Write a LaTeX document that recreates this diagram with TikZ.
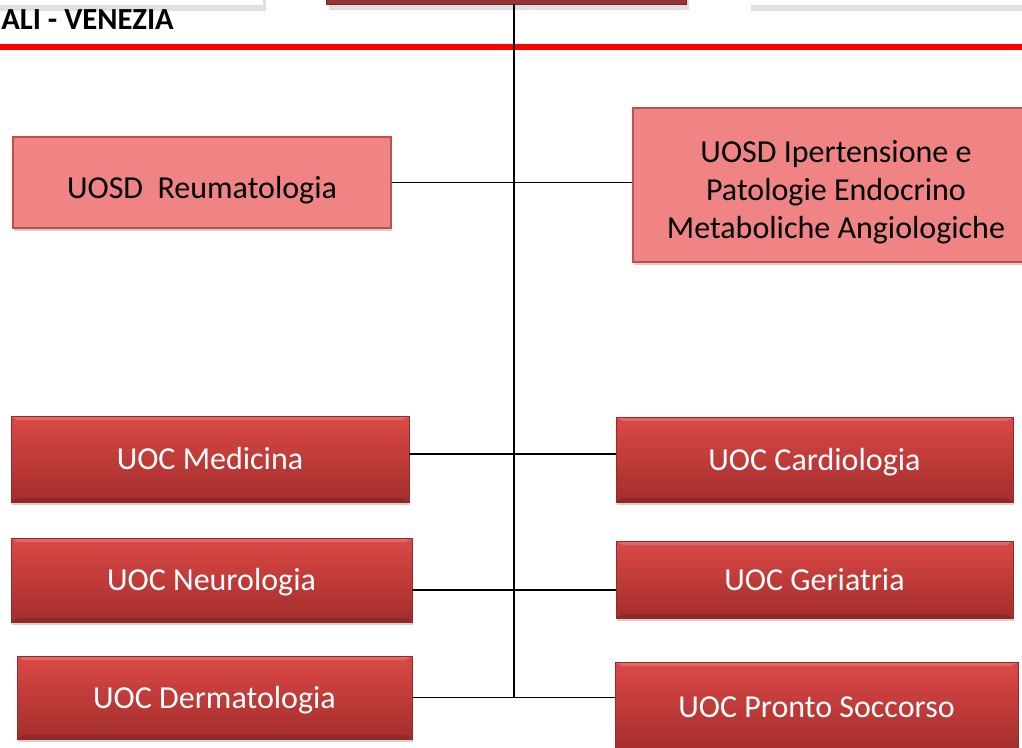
\documentclass[tikz,border=0pt]{standalone}
\usepackage{fontspec}
\setmainfont{Carlito}
\usepackage{xcolor}
\usetikzlibrary{shadows, positioning, calc}
\definecolor{rosa}{RGB}{240,132,133}
\definecolor{bordorosa}{RGB}{192,80,77}
\definecolor{rossoalto}{RGB}{219,73,71}
\definecolor{rossobasso}{RGB}{163,45,43}
\definecolor{bordorosso}{RGB}{150,42,40}
\definecolor{testata}{RGB}{149,52,50}
\tikzstyle{ombra} = [drop shadow={shadow xshift=0.8pt, shadow yshift=-2.2pt, fill=black!35}]
\tikzstyle{bianco} = [rectangle, fill=white, drop shadow={shadow xshift=2pt, shadow yshift=-4.5pt, fill=black!25}]
\tikzstyle{uosd} = [rectangle, draw=bordorosa, line width=1pt, fill=rosa, align=center, font=\fontsize{24}{28.5}\selectfont, ombra]
\tikzstyle{uoc} = [rectangle, draw=bordorosso, line width=0.4pt, top color=rossoalto, bottom color=rossobasso, text=white, align=center, text height=18pt, text depth=2pt, font=\fontsize{24}{28}\selectfont, ombra,
    path picture={
        \fill[white, opacity=0.18] (path picture bounding box.north west) -- (path picture bounding box.north east) -- ([shift={(-5pt,-3pt)}]path picture bounding box.north east) -- ([shift={(5pt,-3pt)}]path picture bounding box.north west) -- cycle;
        \fill[black, opacity=0.12] (path picture bounding box.south west) -- (path picture bounding box.south east) -- ([shift={(-5pt,3pt)}]path picture bounding box.south east) -- ([shift={(5pt,3pt)}]path picture bounding box.south west) -- cycle;}]
\tikzstyle{linea} = [line width=1.3pt, black]

\begin{document}
\begin{tikzpicture}[x=0.75pt, y=-0.75pt]
        \useasboundingbox (0,0) rectangle (1022,747);
        \clip (0,0) rectangle (1022,747);
        % testata
        \node (sx) [bianco, minimum width=227.25pt, minimum height=48.75pt] at (111.5,-27.5) {};
        \node (testa) [bianco, fill=testata, draw=testata!75!black, minimum width=270pt, minimum height=48pt] at (506,-28) {};
        \node (dx) [bianco, minimum width=249pt, minimum height=48.75pt] at (914,-27.5) {};
        \node (sede) [anchor=west, inner sep=0pt, font=\bfseries\fontsize{23}{25}\selectfont] at (1,20) {ALI - VENEZIA};
        \draw[red, line width=4.2pt] (0,47) -- (1022,47);
        
        \node (reum) [uosd, minimum width=283.5pt, minimum height=68.25pt, text height=25.5pt, text depth=2pt] at (202,182.5) {UOSD\ \ Reumatologia};
        \node (iper) [uosd, minimum width=304.5pt, minimum height=115.5pt, text height=80pt, text depth=0pt] at (836,185) {UOSD Ipertensione e\\Patologie Endocrino\\Metaboliche Angiologiche};
        \node (med) [uoc, minimum width=298.5pt, minimum height=64.5pt] at (210,459) {UOC Medicina};
        \node (card) [uoc, minimum width=297.75pt, minimum height=63.75pt] at (814.5,459.5) {UOC Cardiologia};
        \node (neuro) [uoc, minimum width=300.75pt, minimum height=63pt] at (211.5,580) {UOC Neurologia};
        \node (geri) [uoc, minimum width=297.75pt, minimum height=57.75pt] at (814.5,579.5) {UOC Geriatria};
        \node (derm) [uoc, minimum width=296.25pt, minimum height=62.25pt] at (214.5,697.5) {UOC Dermatologia};
        \node (pronto) [uoc, minimum width=302.25pt, minimum height=67.5pt] at (816.5,707) {UOC Pronto Soccorso};
        \coordinate (fondo) at (514,697);
        
        \draw[linea] (testa.south -| fondo) -- (fondo);
        \draw[linea] (reum.east) -- (reum.east -| iper.west);
        \draw[linea] ([yshift=3.75pt]med.east) -- ([yshift=3.75pt]med.east -| card.west);
        \draw[linea] ([yshift=-7.5pt]neuro.east) -- ([yshift=-7.5pt]neuro.east -| geri.west);
        \draw[linea] (derm.east) -- (derm.east -| pronto.west);
    \end{tikzpicture}
\end{document}
